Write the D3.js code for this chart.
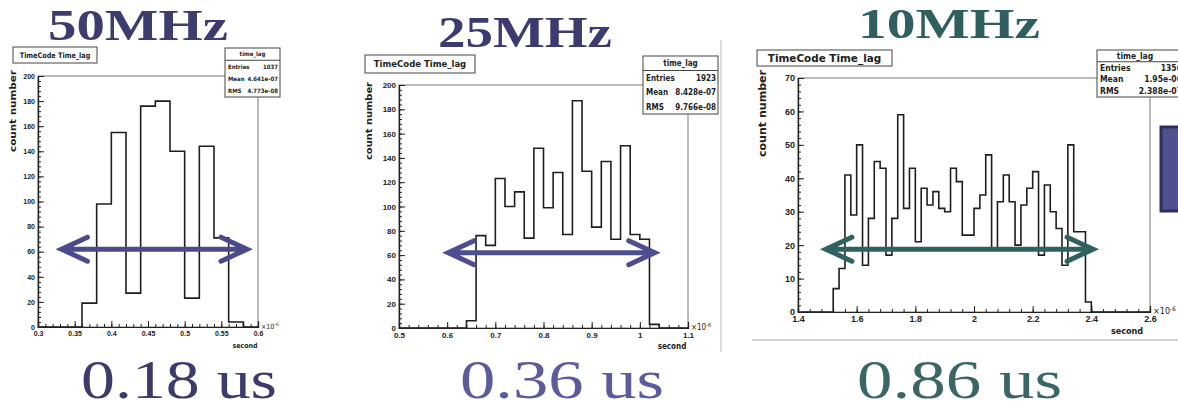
<!DOCTYPE html>
<html>
<head>
<meta charset="utf-8">
<script src="https://cdn.jsdelivr.net/npm/d3@7"></script>
<style>
  body { margin: 0; background: #fff; }
  svg { display: block; }
  .root { font-family: "Liberation Sans Narrow", "DejaVu Sans Condensed", "Liberation Sans", Arial, sans-serif; font-weight: bold; }
  .root text { fill: #222; }
</style>
</head>
<body>
<svg id="chart" width="1178" height="410"></svg>
<script>
// counts per bin (bin width 0.02 x10^-6 s), first bin starts at firstBin
const counts50 = [19, 98, 155, 27, 176, 180, 140, 23, 144, 71, 4]
const counts25 = [6, 76, 68, 123, 100, 112, 74, 148, 99, 128, 77, 187, 129, 83, 137, 73, 150, 77, 73, 3]
const counts10 = [7, 13, 41, 29, 50, 14, 28, 45, 43, 17, 28, 59, 31, 43, 21, 37, 32, 36, 31, 30, 43, 39, 23, 23, 31, 35,
  47, 19, 33, 41, 33, 20, 32, 37, 42, 17, 38, 30, 25, 14, 50, 24, 24, 3]
const firstBin = [0.36, 0.64, 1.52]
const binWidth = 0.02
const xDomains = [[0.3, 0.6], [0.5, 1.1], [1.4, 2.6]]
const yMax = [200, 200, 70]
const xTicks = [[0.3, 0.35, 0.4, 0.45, 0.5, 0.55, 0.6], [0.5, 0.6, 0.7, 0.8, 0.9, 1, 1.1], [1.4, 1.6, 1.8, 2, 2.2, 2.4, 2.6]]
const xMinorStep = [0.01, 0.02, 0.04]
const yTickStep = [20, 20, 10]
const yMinorStep = [4, 4, 2]
const freqLabels = ["50MHz", "25MHz", "10MHz"]
const widthLabels = ["0.18 us", "0.36 us", "0.86 us"]
const statNames = ["Entries", "Mean", "RMS"]
const stats50 = ["1037", "4.641e-07", "4.773e-08"]
const stats25 = ["1923", "8.428e-07", "9.766e-08"]
const stats10 = ["1356", "1.95e-06", "2.388e-07"]
// arrow: [from x, to x, at count]
const arrows = [[0.332, 0.585, 62], [0.602, 1.031, 62], [1.495, 2.406, 18.8]]

const counts = [counts50, counts25, counts10]
const stats = [stats50, stats25, stats10]

// panel layout (pixels)
const panels = [
  { left: 38, top: 76, right: 258, bottom: 327, fs: 7, titleBox: [13, 47, 97, 63], tfs: 7.5, statBox: [225, 48, 280, 97], sfs: 6,
    ylab: [16, 70, 82], second: [245, 348], head: [48, 40, 180, 44], foot: [81, 398, 196],
    headColor: "#3c3c6e", footColor: "#3c3c6c", arrowColor: "#4b4b8c" },
  { left: 399, top: 85, right: 688, bottom: 328, fs: 8, titleBox: [365, 55, 475, 73], tfs: 9, statBox: [643, 56, 718, 114], sfs: 8,
    ylab: [372, 82, 78], second: [672, 349], head: [438, 47, 174, 44], foot: [460, 398, 204],
    headColor: "#3b3b70", footColor: "#5c5c9c", arrowColor: "#4d4d8f" },
  { left: 798, top: 78, right: 1150, bottom: 312, fs: 9, titleBox: [757, 50, 892, 66], tfs: 10, statBox: [1097, 50, 1190, 97], sfs: 8.5,
    ylab: [766, 70, 87], second: [1127, 334], head: [858, 38, 182, 42], foot: [857, 398, 205],
    headColor: "#2f5f5e", footColor: "#3a6665", arrowColor: "#2f6161" }
]

const svg = d3.select('#chart').attr('class', 'root')

// slide decorations
svg.append('line').attr('x1', 721).attr('x2', 721).attr('y1', 40).attr('y2', 352)
  .attr('stroke', '#d4d4d4').attr('stroke-width', 1.5)
svg.append('line').attr('x1', 752).attr('x2', 1178).attr('y1', 340).attr('y2', 340)
  .attr('stroke', '#c4c4c4').attr('stroke-width', 1.5)
svg.append('rect').attr('x', 1161).attr('y', 127).attr('width', 30).attr('height', 84)
  .attr('fill', '#50508e').attr('stroke', '#2e2e5c').attr('stroke-width', 3)

const fmt = d => String(+d.toFixed(2))

const drawPanel = (i) => {
  const p = panels[i]
  const g = svg.append('g')
  const x = d3.scaleLinear().domain(xDomains[i]).range([p.left, p.right])
  const y = d3.scaleLinear().domain([0, yMax[i]]).range([p.bottom, p.top])

  // frame
  g.append('rect')
    .attr('x', p.left).attr('y', p.top)
    .attr('width', p.right - p.left).attr('height', p.bottom - p.top)
    .attr('fill', 'none').attr('stroke', '#777').attr('stroke-width', 1)

  // histogram as a step line
  const c = counts[i]
  const pts = [[xDomains[i][0], 0]]
  c.forEach((v, k) => pts.push([firstBin[i] + k * binWidth, v]))
  pts.push([firstBin[i] + c.length * binWidth, 0])
  pts.push([xDomains[i][1], 0])
  const line = d3.line().x(d => x(d[0])).y(d => y(d[1])).curve(d3.curveStepAfter)
  g.append('path').attr('d', line(pts))
    .attr('fill', 'none').attr('stroke', '#1e1e1e').attr('stroke-width', 1.6)

  // axes (ROOT style: ticks pointing inward)
  const xAxis = d3.axisBottom(x).tickValues(xTicks[i]).tickFormat(fmt).tickSize(-6).tickPadding(4)
  const xMinor = d3.axisBottom(x).tickValues(d3.range(xDomains[i][0], xDomains[i][1] + 1e-9, xMinorStep[i])).tickFormat('').tickSize(-3)
  const yAxis = d3.axisLeft(y).tickValues(d3.range(0, yMax[i] + 1e-9, yTickStep[i])).tickSize(-6).tickPadding(3)
  const yMinor = d3.axisLeft(y).tickValues(d3.range(0, yMax[i] + 1e-9, yMinorStep[i])).tickFormat('').tickSize(-3)

  for (const a of [xMinor, xAxis]) {
    g.append('g').attr('transform', `translate(0,${p.bottom})`).call(a)
      .call(s => s.selectAll('text').attr('font-size', p.fs).attr('font-family', null))
      .call(s => s.selectAll('line,path').attr('stroke', '#222'))
  }
  for (const a of [yMinor, yAxis]) {
    g.append('g').attr('transform', `translate(${p.left},0)`).call(a)
      .call(s => s.selectAll('text').attr('font-size', p.fs).attr('font-family', null))
      .call(s => s.selectAll('line,path').attr('stroke', '#222'))
  }
  g.selectAll('.domain').attr('stroke-width', 1.2)

  // exponent and axis titles
  const ex = g.append('text').attr('x', p.right + 3).attr('y', p.bottom + 2).attr('font-size', p.fs).attr('font-weight', 'normal')
  ex.append('tspan').text('×10')
  ex.append('tspan').attr('dy', -3).attr('font-size', p.fs * 0.7).text('-6')
  g.append('text').attr('x', p.second[0]).attr('y', p.second[1]).attr('text-anchor', 'middle')
    .attr('font-size', p.fs).text('second')
  g.append('text')
    .attr('transform', `translate(${p.ylab[0]},${p.ylab[1]}) rotate(-90)`)
    .attr('text-anchor', 'end').attr('font-size', p.fs + 1)
    .attr('textLength', p.ylab[2]).attr('lengthAdjust', 'spacingAndGlyphs')
    .text('count number')

  // title box
  const tb = p.titleBox
  g.append('rect').attr('x', tb[0]).attr('y', tb[1]).attr('width', tb[2] - tb[0]).attr('height', tb[3] - tb[1])
    .attr('fill', '#fff').attr('stroke', '#444').attr('stroke-width', 1)
  g.append('text').attr('x', (tb[0] + tb[2]) / 2).attr('y', (tb[1] + tb[3]) / 2 + p.tfs * 0.36)
    .attr('text-anchor', 'middle').attr('font-size', p.tfs)
    .attr('textLength', (tb[2] - tb[0]) * 0.84).attr('lengthAdjust', 'spacingAndGlyphs')
    .text('TimeCode Time_lag')

  // stats box
  const sb = p.statBox
  const rowH = (sb[3] - sb[1]) / 4
  g.append('rect').attr('x', sb[0]).attr('y', sb[1]).attr('width', sb[2] - sb[0]).attr('height', sb[3] - sb[1])
    .attr('fill', '#fff').attr('stroke', '#444').attr('stroke-width', 1)
  g.append('line').attr('x1', sb[0]).attr('x2', sb[2]).attr('y1', sb[1] + rowH).attr('y2', sb[1] + rowH)
    .attr('stroke', '#444')
  g.append('text').attr('x', i === 2 ? sb[0] + 38 : (sb[0] + sb[2]) / 2).attr('y', sb[1] + rowH / 2 + p.sfs * 0.36)
    .attr('text-anchor', 'middle').attr('font-size', p.sfs).text('time_lag')
  statNames.forEach((n, k) => {
    const yy = sb[1] + rowH * (k + 1.5) + p.sfs * 0.36
    g.append('text').attr('x', sb[0] + 3).attr('y', yy).attr('font-size', p.sfs).text(n)
    g.append('text').attr('x', i === 2 ? 1182 : sb[2] - 2).attr('y', yy).attr('text-anchor', 'end')
      .attr('font-size', p.sfs).text(stats[i][k])
  })

  // double-headed arrow
  const a = arrows[i]
  const ax1 = x(a[0]), ax2 = x(a[1]), ay = y(a[2])
  const hd = 26, hh = 12
  g.append('path')
    .attr('d', `M${ax1 + 2},${ay}H${ax2 - 2}M${ax1 + hd},${ay - hh}L${ax1},${ay}L${ax1 + hd},${ay + hh}M${ax2 - hd},${ay - hh}L${ax2},${ay}L${ax2 - hd},${ay + hh}`)
    .attr('fill', 'none').attr('stroke', p.arrowColor).attr('stroke-width', 5)
    .attr('stroke-linejoin', 'miter').attr('stroke-linecap', 'round')

  // slide headings
  svg.append('text').attr('x', p.head[0]).attr('y', p.head[1])
    .attr('textLength', p.head[2]).attr('lengthAdjust', 'spacingAndGlyphs')
    .style('font-family', '"Liberation Serif", "DejaVu Serif", serif').style('font-weight', 'bold')
    .attr('font-size', p.head[3]).style('fill', p.headColor).text(freqLabels[i])
  svg.append('text').attr('x', p.foot[0]).attr('y', p.foot[1])
    .attr('textLength', p.foot[2]).attr('lengthAdjust', 'spacingAndGlyphs')
    .style('font-family', '"Liberation Serif", "DejaVu Serif", serif').style('font-weight', 'normal')
    .attr('font-size', 55).style('fill', p.footColor).text(widthLabels[i])
}

drawPanel(0)
drawPanel(1)
drawPanel(2)
</script>
</body>
</html>
